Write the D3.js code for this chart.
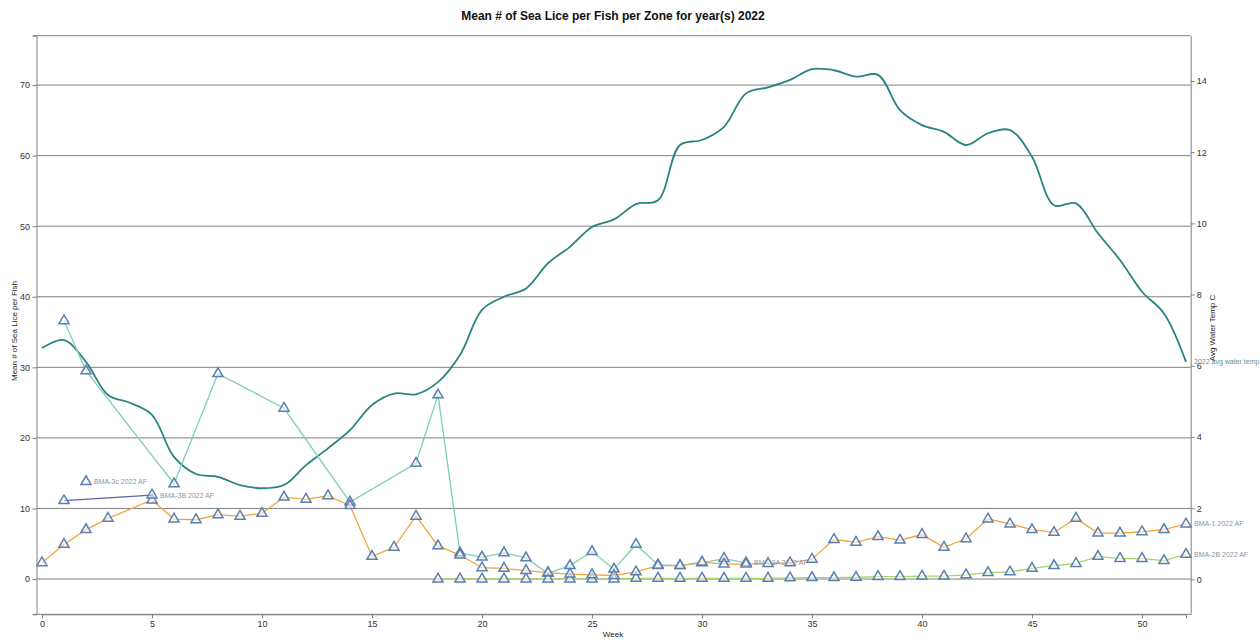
<!DOCTYPE html>
<html>
<head>
<meta charset="utf-8">
<script src="https://cdn.jsdelivr.net/npm/d3@7.9.0/dist/d3.min.js"></script>
<style>
  body { margin: 0; background: #fff; }
  svg { display: block; font-family: "Liberation Sans", Arial, sans-serif; }
  .axis text { fill: #333; font-size: 9px; }
  .axis path, .axis line { stroke: #808080; }
  .lbl { font-size: 7px; fill: #8b93a6; }
</style>
</head>
<body>
<svg width="1260" height="640"></svg>
<script>
// ===== data =====
const weeks = d3.range(0, 53);

const tempValues = [6.5, 6.72, 6.11, 5.18, 4.96, 4.62, 3.44, 2.96, 2.88, 2.65,
  2.56, 2.65, 3.21, 3.68, 4.19, 4.9, 5.22, 5.2, 5.54, 6.3,
  7.57, 7.94, 8.17, 8.88, 9.34, 9.9, 10.11, 10.54, 10.65, 12.2,
  12.34, 12.71, 13.65, 13.82, 14.03, 14.33, 14.3, 14.12, 14.17, 13.18,
  12.76, 12.57, 12.2, 12.53, 12.62, 11.87, 10.51, 10.56, 9.72, 8.97,
  8.08, 7.47, 6.11];

const bma1Weeks = [0, 1, 2, 3, 5, 6, 7, 8, 9, 10, 11, 12, 13, 14, 15, 16, 17, 18, 19, 20,
  21, 22, 23, 24, 25, 26, 27, 28, 29, 30, 31, 32, 33, 34, 35, 36, 37, 38, 39, 40,
  41, 42, 43, 44, 45, 46, 47, 48, 49, 50, 51, 52];
const bma1Values = [2.3, 4.9, 7.0, 8.6, 11.2, 8.5, 8.4, 9.1, 8.9, 9.3, 11.6, 11.3, 11.8, 10.4, 3.2, 4.5, 8.9, 4.7, 3.4, 1.6,
  1.5, 1.2, 0.9, 0.7, 0.6, 0.5, 1.0, 1.9, 1.9, 2.4, 2.1, 2.1, 2.2, 2.3, 2.8, 5.6, 5.2, 6.0, 5.5, 6.3,
  4.5, 5.7, 8.5, 7.8, 7.0, 6.6, 8.6, 6.5, 6.5, 6.7, 7.0, 7.8];

const bma3aWeeks = [1, 2, 6, 8, 11, 14, 17, 18, 19, 20, 21, 22, 23, 24, 25, 26, 27, 28, 29, 30, 31, 32];
const bma3aValues = [36.6, 29.5, 13.5, 29.1, 24.2, 10.9, 16.4, 26.1, 3.7, 3.1, 3.7, 3.0, 0.8, 1.9, 3.9, 1.4, 4.9, 2.0, 1.9, 2.3, 2.9, 2.3];

const bma2bWeeks = d3.range(18, 53);
const bma2bValues = [0, 0, 0, 0, 0, 0, 0, 0, 0, 0.1, 0.1, 0.1, 0.1, 0.1, 0.1, 0.1, 0.15, 0.2, 0.2, 0.25,
  0.35, 0.35, 0.4, 0.4, 0.6, 0.9, 1.0, 1.5, 1.9, 2.2, 3.2, 2.9, 2.9, 2.6, 3.5];

const bma3bWeeks = [1, 5];
const bma3bValues = [11.1, 11.9];

const bma3cWeeks = [2];
const bma3cValues = [13.8];

const liceTicks = [0, 10, 20, 30, 40, 50, 60, 70];
const tempTicks = [0, 2, 4, 6, 8, 10, 12, 14];
const weekTicks = [0, 5, 10, 15, 20, 25, 30, 35, 40, 45, 50];

const series = [
  { name: 'BMA-3A 2022 AF', weeks: bma3aWeeks, values: bma3aValues, color: '#7fcfb6' },
  { name: 'BMA-2B 2022 AF', weeks: bma2bWeeks, values: bma2bValues, color: '#a9d46c' },
  { name: 'BMA-1 2022 AF', weeks: bma1Weeks, values: bma1Values, color: '#f4a43f' },
  { name: 'BMA-3B 2022 AF', weeks: bma3bWeeks, values: bma3bValues, color: '#5b62aa' },
  { name: 'BMA-3c 2022 AF', weeks: bma3cWeeks, values: bma3cValues, color: '#5b62aa' }
];

// ===== layout =====
const plotLeft = 36.5, plotRight = 1190.7, plotTop = 35.7, plotBottom = 614.3;

const svg = d3.select('svg');

let x = d3.scaleLinear().domain([0, 52]).range([42, 1186]);
let yL = d3.scaleLinear().domain([-5, 77]).range([plotBottom, plotTop]);
let yR = d3.scaleLinear().domain([-0.98, 15.27]).range([plotBottom, plotTop]);

svg.append('text')
  .attr('x', 613).attr('y', 20)
  .attr('text-anchor', 'middle')
  .style('font-size', '12px').style('font-weight', 'bold').style('fill', '#111')
  .text('Mean # of Sea Lice per Fish per Zone for year(s) 2022');

// grid
svg.append('g').selectAll('line')
  .data(liceTicks)
  .join('line')
  .attr('x1', plotLeft).attr('x2', plotRight)
  .attr('y1', d => yL(d)).attr('y2', d => yL(d))
  .attr('stroke', '#808080');

svg.append('line')
  .attr('x1', 33).attr('x2', plotRight).attr('y1', plotTop).attr('y2', plotTop)
  .attr('stroke', '#808080');

// axes
svg.append('g').attr('class', 'axis')
  .attr('transform', `translate(${plotLeft},0)`)
  .call(d3.axisLeft(yL).tickValues(liceTicks).tickSize(4).tickPadding(2.5).tickSizeOuter(4));

svg.append('g').attr('class', 'axis')
  .attr('transform', `translate(${plotRight},0)`)
  .call(d3.axisRight(yR).tickValues(tempTicks).tickSize(4).tickPadding(2).tickSizeOuter(0));

svg.append('g').attr('class', 'axis')
  .attr('transform', `translate(0,${plotBottom})`)
  .call(d3.axisBottom(x).tickValues(weekTicks).tickSize(4).tickPadding(2).tickSizeOuter(4));

svg.append('line')
  .attr('x1', 33).attr('x2', plotRight).attr('y1', plotBottom).attr('y2', plotBottom)
  .attr('stroke', '#808080');

// axis titles
svg.append('text')
  .attr('transform', 'translate(17,331) rotate(-90)')
  .attr('text-anchor', 'middle')
  .style('font-size', '8px').style('fill', '#222')
  .text('Mean # of Sea Lice per Fish');

svg.append('text')
  .attr('transform', 'translate(1215,328) rotate(-90)')
  .attr('text-anchor', 'middle')
  .style('font-size', '8px').style('fill', '#222')
  .text('Avg Water Temp C');

svg.append('text')
  .attr('x', 613).attr('y', 637)
  .attr('text-anchor', 'middle')
  .style('font-size', '8px').style('fill', '#222')
  .text('Week');

// water temp curve
let tempLine = d3.line()
  .x(d => x(d[0]))
  .y(d => yR(d[1]))
  .curve(d3.curveCatmullRom);

let tempData = weeks.map((w, i) => [w, tempValues[i]]);

svg.append('path')
  .attr('d', tempLine(tempData))
  .attr('fill', 'none')
  .attr('stroke', '#2b8283')
  .attr('stroke-width', 1.8);

svg.append('text')
  .attr('x', x(52) + 8).attr('y', yR(tempValues[52]))
  .attr('dy', '0.35em')
  .style('font-size', '7px').style('fill', '#5a9396')
  .text('2022 avg water temp');

// lice series
let liceLine = d3.line()
  .x(d => x(d[0]))
  .y(d => yL(d[1]));

let triangle = d3.symbol().type(d3.symbolTriangle).size(44);

series.forEach(s => {
  let pts = s.weeks.map((w, i) => [w, s.values[i]]);
  svg.append('path')
    .attr('d', liceLine(pts))
    .attr('fill', 'none')
    .attr('stroke', s.color)
    .attr('stroke-width', 1.3);
});

series.forEach(s => {
  let pts = s.weeks.map((w, i) => [w, s.values[i]]);
  svg.append('g').selectAll('path')
    .data(pts)
    .join('path')
    .attr('d', triangle)
    .attr('transform', d => `translate(${x(d[0])},${yL(d[1])})`)
    .attr('fill', '#fff')
    .attr('fill-opacity', 0.5)
    .attr('stroke', '#5b7fb0')
    .attr('stroke-width', 1.5);

  let last = pts[pts.length - 1];
  svg.append('text')
    .attr('class', 'lbl')
    .attr('x', x(last[0]) + 8)
    .attr('y', yL(last[1]))
    .attr('dy', '0.35em')
    .text(s.name);
});
</script>
</body>
</html>
